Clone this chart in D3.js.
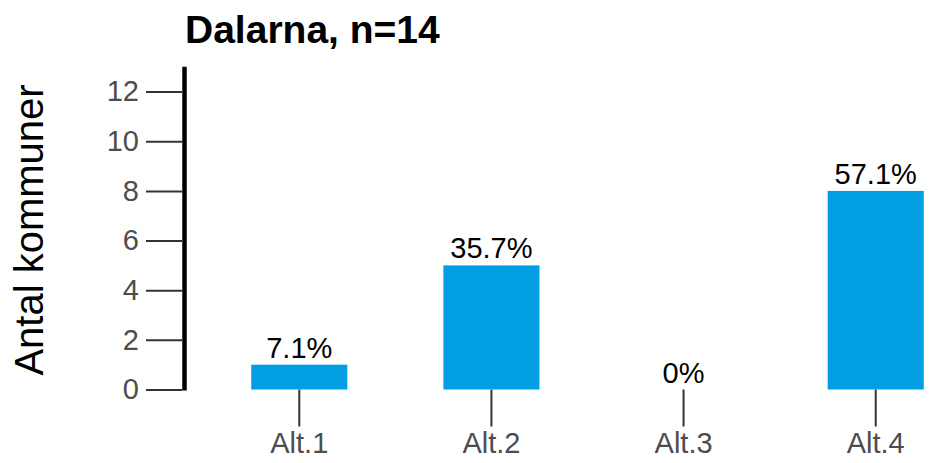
<!DOCTYPE html>
<meta charset="utf-8">
<style>
  body { margin: 0; background: #fff; }
  svg { font-family: "Liberation Sans", Arial, sans-serif; }
  .axis text { fill: #4d4d4d; font-size: 29px; }
  .axis line { stroke: #333; stroke-width: 2; }
</style>
<body>
<div id="chart"></div>
<script src="https://d3js.org/d3.v7.min.js"></script>
<script>

// data
var categories = ["Alt.1", "Alt.2", "Alt.3", "Alt.4"];
var counts = [1, 5, 0, 8];
var pctLabels = ["7.1%", "35.7%", "0%", "57.1%"];
var yTicks = [0, 2, 4, 6, 8, 10, 12];

var width = 929, height = 463;

var svg = d3.select("#chart")
  .append("svg")
  .attr("width", width)
  .attr("height", height);

// x scale, ggplot-like discrete expansion
var x = d3.scaleBand()
  .domain(categories)
  .range([184, 991])
  .paddingInner(0.5)
  .paddingOuter(0.35);

var y = d3.scaleLinear()
  .domain([0, 13])
  .range([389.5, 66.8]);

// y axis
svg.append("g")
  .attr("class", "axis")
  .attr("transform", "translate(182,0)")
  .call(d3.axisLeft(y).tickValues(yTicks).tickSize(36).tickPadding(7))
  .select(".domain").remove();

// thick axis line
svg.append("line")
  .attr("x1", 184.5).attr("x2", 184.5)
  .attr("y1", y(13)).attr("y2", y(0) + 1)
  .attr("stroke", "#000")
  .attr("stroke-width", 4.5);

// x axis
svg.append("g")
  .attr("class", "axis")
  .attr("transform", "translate(0," + y(0) + ")")
  .call(d3.axisBottom(x).tickSize(37).tickPadding(6))
  .select(".domain").remove();

// bars
svg.selectAll(".bar")
  .data(categories)
  .enter()
  .append("rect")
  .attr("class", "bar")
  .attr("x", function(d) { return x(d); })
  .attr("width", x.bandwidth())
  .attr("y", function(d, i) { return y(counts[i]); })
  .attr("height", function(d, i) { return y(0) - y(counts[i]); })
  .attr("fill", "#009FE3");

// value labels
svg.selectAll(".lbl")
  .data(categories)
  .enter()
  .append("text")
  .attr("class", "lbl")
  .attr("x", function(d) { return x(d) + x.bandwidth() / 2; })
  .attr("y", function(d, i) { return y(counts[i]) - 7; })
  .attr("text-anchor", "middle")
  .style("font-size", "29px")
  .style("fill", "#000")
  .text(function(d, i) { return pctLabels[i]; });

// title
svg.append("text")
  .attr("x", 185)
  .attr("y", 43)
  .style("font-size", "39px")
  .style("font-weight", "bold")
  .text("Dalarna, n=14");

// y label
svg.append("text")
  .attr("transform", "translate(43,230) rotate(-90)")
  .attr("text-anchor", "middle")
  .style("font-size", "40px")
  .text("Antal kommuner");

</script>
</body>
